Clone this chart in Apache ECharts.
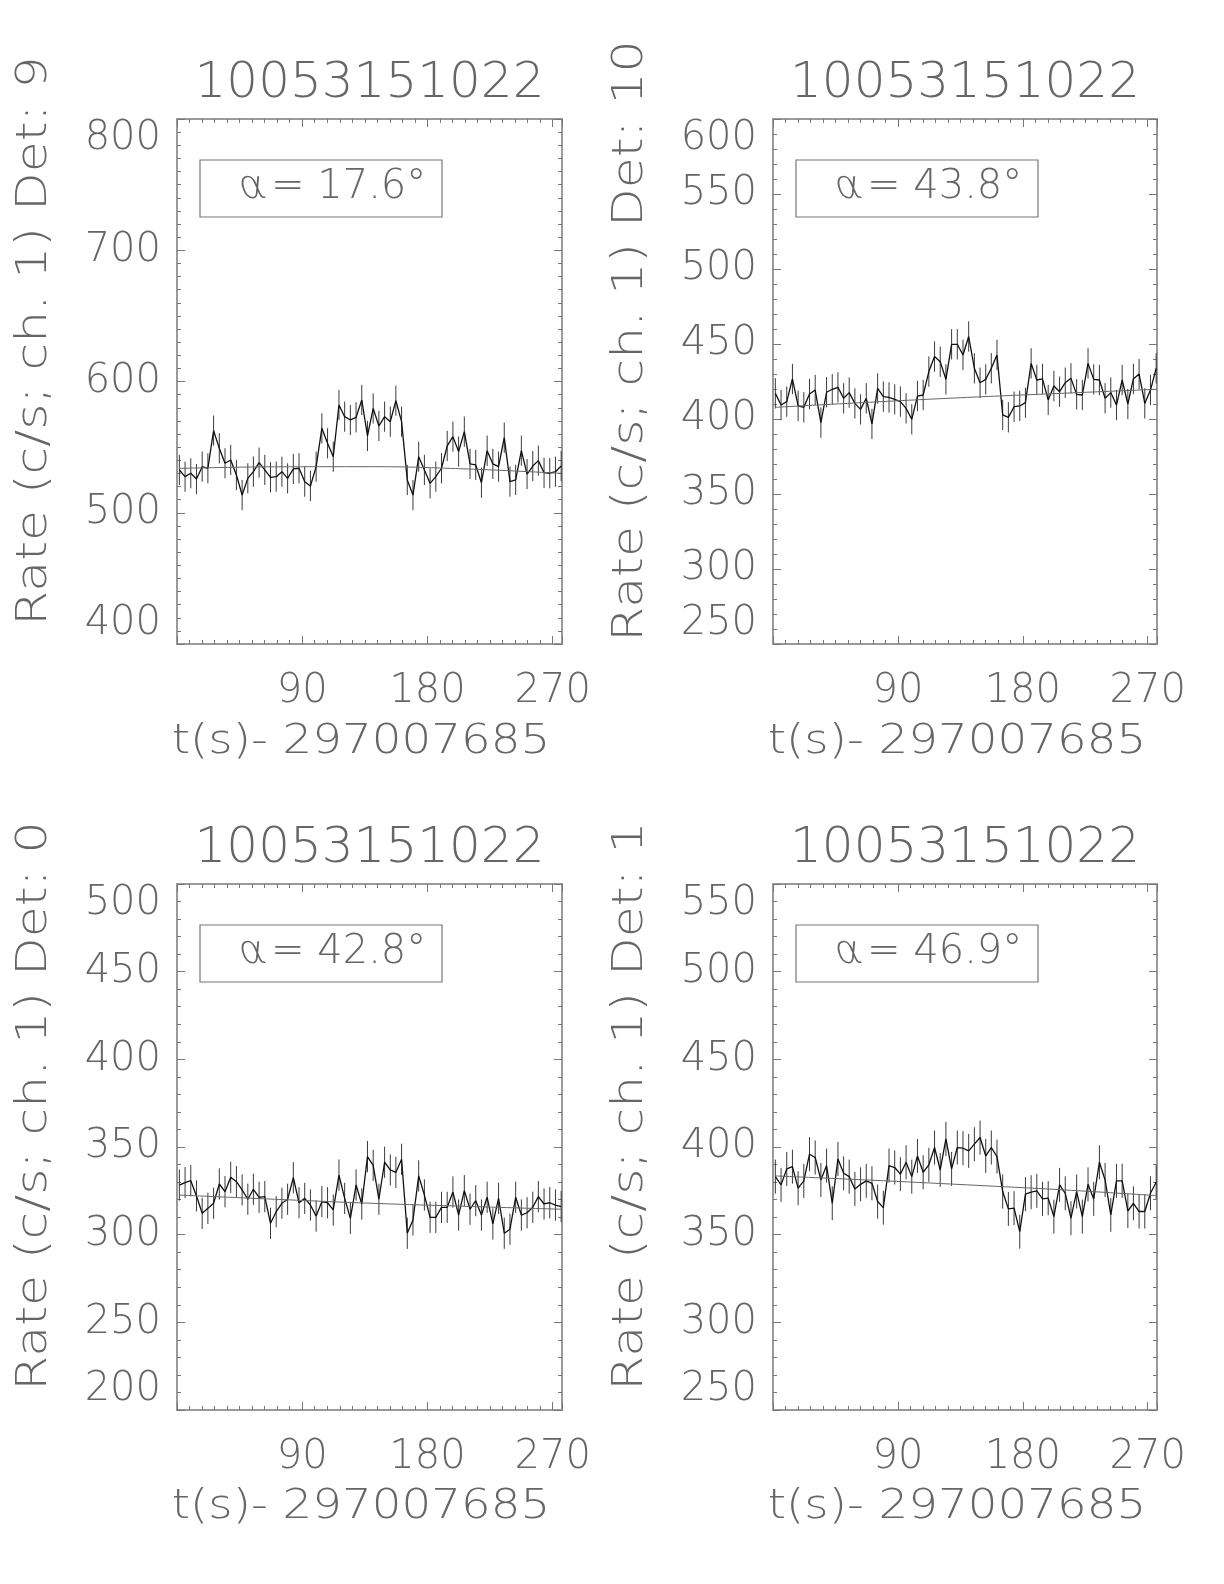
<!DOCTYPE html>
<html>
<head>
<meta charset="utf-8">
<script src="https://cdn.jsdelivr.net/npm/echarts@6/dist/echarts.min.js"></script>
<style>html,body{margin:0;padding:0;background:#fff}#c{width:1224px;height:1584px}</style>
</head>
<body>
<div id="c"></div>
<script>
// ---- data ----
const obsId = '10053151022';
const xAxisTitle = 't(s)- 297007685';
const detectors = [9, 10, 0, 1];
const alphas = ['17.6', '43.8', '42.8', '46.9'];
const yMins = [400, 250, 200, 250];
const yMaxs = [800, 600, 500, 550];
const yIntervals = [100, 50, 50, 50];
const xTickLabels = [90, 180, 270];
const times = [1.7, 5.8, 9.9, 14.0, 18.1, 22.2, 26.3, 30.4, 34.5, 38.6, 42.7, 46.8, 50.9, 54.9, 59.0, 63.1, 67.2, 71.3, 75.4, 79.5, 83.6, 87.7, 91.8, 95.9, 100.0, 104.1, 108.2, 112.3, 116.4, 120.5, 124.6, 128.7, 132.8, 136.9, 141.0, 145.1, 149.2, 153.3, 157.3, 161.4, 165.5, 169.6, 173.7, 177.8, 181.9, 186.0, 190.1, 194.2, 198.3, 202.4, 206.5, 210.6, 214.7, 218.8, 222.9, 227.0, 231.1, 235.2, 239.3, 243.4, 247.5, 251.6, 255.7, 259.7, 263.8, 267.9, 272.0, 276.1];
const rateDet9 = [532.6, 527.5, 530.1, 525.7, 535.1, 533.9, 562.6, 549.1, 537.7, 540.2, 528.8, 513.5, 526.2, 531.3, 538.2, 532.6, 527.0, 527.5, 531.3, 526.2, 533.4, 533.9, 523.7, 520.4, 535.1, 564.3, 552.9, 542.7, 582.1, 573.2, 570.7, 572.7, 585.9, 558.5, 579.5, 566.1, 573.2, 569.4, 585.4, 569.4, 525.0, 513.5, 542.7, 532.6, 522.4, 527.5, 533.9, 550.9, 558.0, 546.6, 561.8, 537.2, 536.4, 522.9, 547.3, 537.2, 535.1, 557.2, 523.7, 525.0, 547.3, 529.5, 535.6, 539.7, 530.5, 530.1, 531.3, 535.6];
const rateDet10 = [417.1, 409.3, 411.6, 426.7, 408.7, 407.8, 416.7, 419.3, 397.6, 417.8, 419.8, 421.1, 413.8, 417.6, 410.4, 406.4, 413.8, 396.7, 420.4, 414.9, 414.4, 413.1, 411.6, 407.1, 399.8, 415.3, 416.0, 431.6, 441.6, 438.2, 426.4, 449.8, 449.8, 442.7, 455.0, 433.8, 424.2, 426.4, 433.8, 442.7, 402.7, 401.1, 408.2, 408.7, 410.9, 437.1, 426.0, 426.7, 412.7, 422.0, 418.2, 424.2, 427.1, 416.4, 416.0, 437.1, 426.4, 426.0, 413.8, 417.6, 409.3, 426.0, 410.0, 426.7, 430.0, 410.4, 419.3, 433.8];
const rateDet0 = [328.3, 329.7, 330.8, 322.1, 312.2, 315.0, 317.9, 328.9, 324.5, 332.7, 330.2, 325.5, 320.2, 325.9, 321.3, 321.7, 306.5, 313.1, 317.9, 320.2, 332.5, 318.2, 320.7, 316.9, 310.6, 318.8, 318.2, 314.1, 334.0, 320.7, 309.3, 328.3, 317.5, 344.5, 339.5, 320.2, 341.3, 336.9, 335.5, 343.0, 300.8, 308.4, 333.5, 322.6, 309.9, 309.9, 315.6, 315.6, 324.3, 311.2, 325.1, 314.5, 319.4, 311.2, 321.3, 306.1, 320.7, 300.8, 303.1, 321.3, 311.2, 312.5, 315.6, 321.7, 317.5, 318.2, 316.9, 316.0];
const rateDet1 = [383.1, 378.4, 387.5, 388.8, 376.5, 380.7, 395.9, 394.0, 381.2, 389.4, 367.9, 393.2, 385.0, 383.1, 376.1, 378.7, 380.7, 379.3, 368.9, 365.4, 389.4, 388.3, 384.5, 391.3, 383.1, 394.9, 385.6, 389.8, 399.7, 386.9, 404.6, 387.5, 399.7, 399.3, 397.8, 401.6, 405.4, 394.9, 399.7, 394.5, 374.6, 364.7, 365.1, 351.7, 373.1, 374.2, 375.0, 370.4, 370.8, 360.3, 378.4, 373.6, 359.4, 374.6, 360.3, 378.7, 370.4, 391.3, 381.2, 361.3, 380.7, 380.7, 363.5, 367.9, 363.2, 363.2, 373.6, 379.9];
const rateErrors = [11.5, 10.1, 8.9, 9.7];
const fitTimes = [1.7, 70, 140, 210, 276.1];
const fitDet9 = [533.8, 535.0, 535.1, 533.3, 530.0];
const fitDet10 = [407.8, 411.2, 414.4, 417.2, 419.8];
const fitDet0 = [322.6, 320.2, 317.9, 316.1, 314.5];
const fitDet1 = [383.5, 381.1, 378.4, 375.5, 372.3];

const rates = [rateDet9, rateDet10, rateDet0, rateDet1];
const fits = [fitDet9, fitDet10, fitDet0, fitDet1];

// ---- layout / style ----
const FONT = "'DejaVu Sans ExtraLight', 'DejaVu Sans'";
const TXT = '#666';
const grids = [
  {left: 177, top: 119, width: 385, height: 525},
  {left: 773, top: 119, width: 384, height: 525},
  {left: 177, top: 884, width: 385, height: 526},
  {left: 773, top: 884, width: 384, height: 526}
];

const chart = echarts.init(document.getElementById('c'), null, {renderer: 'canvas'});
const xAxes = [], yAxes = [], series = [], graphic = [];
const frameLine = {show: true, lineStyle: {color: '#9a9a9a', width: 2}};
const tick = {show: true, inside: true, length: 8, lineStyle: {color: '#777', width: 1}};

for (let k = 0; k < 4; k++) {
  const g = grids[k];
  const baseX = {
    type: 'value', gridIndex: k, min: 0, max: 276.7, interval: 90,
    axisLine: Object.assign({onZero: false}, frameLine), axisTick: tick,
    minorTick: {show: true, splitNumber: 10, length: 4, lineStyle: {color: '#777', width: 1}},
    splitLine: {show: false}, minorSplitLine: {show: false}
  };
  xAxes.push(Object.assign({}, baseX, {
    position: 'bottom',
    axisLabel: {show: true, fontSize: 40, color: TXT, fontFamily: FONT, fontWeight: 200, margin: 28,
      showMinLabel: false, showMaxLabel: false,
      formatter: v => (xTickLabels.indexOf(Math.round(v)) >= 0 ? String(Math.round(v)) : '')}
  }));
  xAxes.push(Object.assign({}, baseX, {position: 'top', axisLabel: {show: false}}));
  const baseY = {
    type: 'value', gridIndex: k, min: yMins[k], max: yMaxs[k], interval: yIntervals[k],
    axisLine: Object.assign({onZero: false}, frameLine), axisTick: tick,
    minorTick: {show: true, splitNumber: yIntervals[k] / 10, length: 4, lineStyle: {color: '#777', width: 1}},
    splitLine: {show: false}, minorSplitLine: {show: false}
  };
  yAxes.push(Object.assign({}, baseY, {
    position: 'left',
    axisLabel: {show: true, fontSize: 40, color: TXT, fontFamily: FONT, fontWeight: 200, margin: 16,
      verticalAlignMaxLabel: 'top', verticalAlignMinLabel: 'bottom'}
  }));
  yAxes.push(Object.assign({}, baseY, {position: 'right', axisLabel: {show: false}}));

  const err = rateErrors[k];
  series.push({
    type: 'custom', xAxisIndex: 2 * k, yAxisIndex: 2 * k, z: 2,
    data: times.map((t, i) => [t, rates[k][i], err]),
    renderItem: function (params, api) {
      const x = api.value(0), v = api.value(1), e = api.value(2);
      const p1 = api.coord([x, v - e]), p2 = api.coord([x, v + e]);
      return {type: 'line', shape: {x1: p1[0], y1: p1[1], x2: p2[0], y2: p2[1]},
        style: {stroke: '#3a3a3a', lineWidth: 1}};
    }
  });
  series.push({
    type: 'line', xAxisIndex: 2 * k, yAxisIndex: 2 * k, z: 3,
    data: times.map((t, i) => [t, rates[k][i]]), symbol: 'none',
    lineStyle: {color: '#111', width: 1.3}
  });
  series.push({
    type: 'line', xAxisIndex: 2 * k, yAxisIndex: 2 * k, z: 4, smooth: 0.4,
    data: fitTimes.map((t, i) => [t, fits[k][i]]), symbol: 'none',
    lineStyle: {color: '#666', width: 1}
  });

  const cx = g.left + g.width / 2;
  graphic.push({type: 'text', x: cx, y: g.top - 35,
    style: {text: obsId, fontSize: 50, fill: TXT, fontFamily: FONT, fontWeight: 200, align: 'center', verticalAlign: 'middle'}});
  graphic.push({type: 'text', x: g.left - 142, y: g.top + 222, rotation: Math.PI / 2, scaleX: 1.2,
    style: {text: 'Rate (c/s; ch. 1) Det: ' + detectors[k], fontSize: 42, fill: TXT, fontFamily: FONT, fontWeight: 200,
      align: 'center', verticalAlign: 'middle'}});
  graphic.push({type: 'text', x: g.left + 184, y: g.top + 623, scaleX: 1.14,
    style: {text: xAxisTitle, fontSize: 41, fill: TXT, fontFamily: FONT, fontWeight: 200,
      align: 'center', verticalAlign: 'middle'}});
  graphic.push({type: 'rect', shape: {x: g.left + 23, y: g.top + 41, width: 242, height: 57},
    style: {fill: 'none', stroke: '#777', lineWidth: 1.2}});
  graphic.push({type: 'text', x: g.left + 62, y: g.top + 69, skewX: 0.25,
    style: {text: 'α', fontSize: 40, fill: TXT, fontFamily: FONT, fontWeight: 200, align: 'left', verticalAlign: 'middle'}});
  graphic.push({type: 'text', x: g.left + 94, y: g.top + 69,
    style: {text: '= ' + alphas[k] + '°', fontSize: 40, fill: TXT, fontFamily: FONT, fontWeight: 200, align: 'left', verticalAlign: 'middle'}});
}

chart.setOption({
  animation: false,
  backgroundColor: '#fff',
  grid: grids,
  xAxis: xAxes,
  yAxis: yAxes,
  series: series,
  graphic: graphic
});
</script>
</body>
</html>
